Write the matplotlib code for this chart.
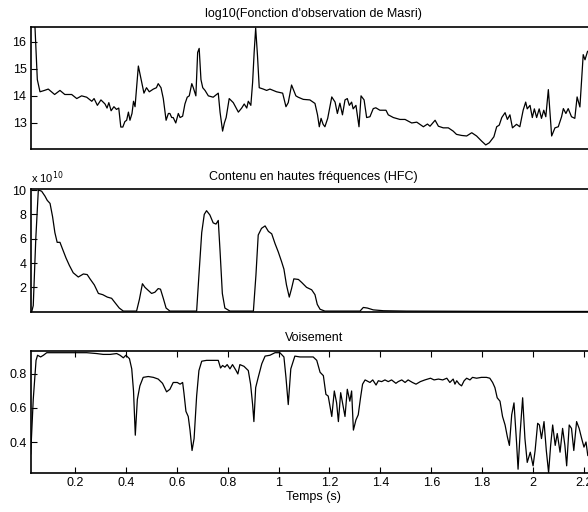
import numpy as np
import matplotlib
matplotlib.use("Agg")
import matplotlib.pyplot as plt

plt.rcParams["font.family"] = ["Liberation Sans", "DejaVu Sans"]

# Masri observation function (log10)
masri_t = [0.027, 0.043, 0.052, 0.0625, 0.08, 0.095, 0.12, 0.141, 0.16, 0.187, 0.207, 0.226, 0.246,
           0.266, 0.275, 0.288, 0.302, 0.318, 0.326, 0.333, 0.342, 0.353, 0.363, 0.372, 0.38, 0.388,
           0.396, 0.403, 0.41, 0.416, 0.424, 0.43, 0.436, 0.449, 0.462, 0.471, 0.481, 0.492, 0.508,
           0.52, 0.527, 0.538, 0.547, 0.558, 0.567, 0.573, 0.58, 0.586, 0.596, 0.606, 0.613, 0.623,
           0.632, 0.641, 0.649, 0.659, 0.665, 0.675, 0.682, 0.688, 0.695, 0.702, 0.711, 0.724, 0.743,
           0.763, 0.77, 0.78, 0.787, 0.794, 0.806, 0.822, 0.842, 0.855, 0.865, 0.875, 0.881, 0.891,
           0.898, 0.904, 0.91, 0.917, 0.924, 0.94, 0.953, 0.966, 0.992, 1.016, 1.029, 1.038, 1.051,
           1.068, 1.077, 1.097, 1.123, 1.143, 1.153, 1.16, 1.167, 1.175, 1.182, 1.193, 1.209, 1.222,
           1.231, 1.241, 1.251, 1.261, 1.27, 1.278, 1.287, 1.293, 1.304, 1.316, 1.324, 1.336, 1.346,
           1.359, 1.372, 1.382, 1.398, 1.422, 1.431, 1.451, 1.477, 1.497, 1.523, 1.543, 1.569, 1.585,
           1.595, 1.615, 1.628, 1.647, 1.667, 1.686, 1.699, 1.719, 1.739, 1.759, 1.778, 1.798, 1.814,
           1.828, 1.846, 1.857, 1.867, 1.877, 1.89, 1.899, 1.909, 1.919, 1.935, 1.948, 1.961, 1.971,
           1.977, 1.988, 1.997, 2.005, 2.014, 2.024, 2.033, 2.042, 2.05, 2.06, 2.073, 2.086, 2.099,
           2.112, 2.119, 2.129, 2.138, 2.151, 2.164, 2.173, 2.184, 2.197, 2.204, 2.214, 2.23]
masri_v = [17.0, 16.5, 14.6, 14.15, 14.2, 14.25, 14.05, 14.2, 14.05, 14.05, 13.9, 14.0, 13.95,
           13.8, 13.9, 13.65, 13.85, 13.7, 13.55, 13.75, 13.45, 13.6, 13.5, 13.55, 12.85, 12.85,
           13.05, 13.1, 13.4, 13.1, 13.35, 13.8, 13.6, 15.1, 14.5, 14.1, 14.3, 14.15, 14.25,
           14.3, 14.45, 14.3, 13.9, 13.1, 13.35, 13.35, 13.2, 13.2, 13.0, 13.35, 13.2, 13.25,
           13.7, 13.95, 14.0, 14.45, 14.3, 14.0, 15.6, 15.75, 14.6, 14.3, 14.2, 14.0, 13.95,
           14.1, 13.4, 12.7, 13.0, 13.2, 13.9, 13.75, 13.4, 13.55, 13.7, 13.55, 13.8, 13.65,
           14.5, 15.6, 16.5, 15.5, 14.3, 14.25, 14.2, 14.25, 14.15, 14.1, 13.6, 13.75, 14.4,
           14.0, 13.95, 13.87, 13.85, 13.72, 13.3, 12.86, 13.17, 12.95, 12.86, 13.17, 13.96, 13.77,
           13.35, 13.73, 13.3, 13.85, 13.9, 13.65, 13.77, 13.52, 13.65, 12.86, 14.0, 13.85, 13.2,
           13.23, 13.53, 13.56, 13.47, 13.47, 13.3, 13.2, 13.13, 13.13, 13.0, 13.03, 12.86, 12.96,
           12.88, 13.1, 12.88, 12.82, 12.82, 12.7, 12.58, 12.54, 12.52, 12.64, 12.52, 12.33, 12.19,
           12.27, 12.49, 12.86, 12.92, 13.2, 13.38, 13.13, 13.3, 12.82, 12.95, 12.86, 13.47, 13.77,
           13.52, 13.65, 13.2, 13.52, 13.2, 13.52, 13.17, 13.47, 13.23, 14.23, 12.52, 12.82, 12.86,
           13.23, 13.53, 13.35, 13.53, 13.23, 13.17, 13.96, 13.59, 15.52, 15.33, 15.64, 15.7]

# High frequency content (x 1e10)
hfc_t = [0.026, 0.030, 0.036, 0.046, 0.056, 0.069, 0.082, 0.091, 0.102, 0.112, 0.121, 0.13, 0.141,
         0.152, 0.165, 0.178, 0.193, 0.213, 0.233, 0.248, 0.259, 0.276, 0.292, 0.309, 0.327, 0.344,
         0.357, 0.374, 0.39, 0.442, 0.453, 0.465, 0.475, 0.488, 0.501, 0.514, 0.527, 0.536, 0.547,
         0.558, 0.573, 0.678, 0.687, 0.698, 0.708, 0.717, 0.73, 0.743, 0.754, 0.763, 0.77, 0.779,
         0.789, 0.809, 0.901, 0.911, 0.92, 0.933, 0.947, 0.96, 0.973, 0.986, 0.999, 1.012, 1.021,
         1.031, 1.042, 1.051, 1.06, 1.078, 1.091, 1.11, 1.13, 1.143, 1.152, 1.163, 1.182, 1.32,
         1.333, 1.349, 1.372, 1.412, 1.503, 1.804, 2.0, 2.25]
hfc_v = [0.0, 0.0, 0.5, 6.0, 10.0, 9.9, 9.5, 9.15, 8.9, 7.8, 6.5, 5.7, 5.7,
         5.1, 4.4, 3.8, 3.2, 2.85, 3.1, 3.05, 2.7, 2.2, 1.5, 1.4, 1.2, 1.1,
         0.75, 0.3, 0.05, 0.05, 1.0, 2.3, 2.0, 1.75, 1.5, 1.6, 1.9, 1.85, 1.1,
         0.3, 0.05, 0.05, 3.0, 6.5, 8.0, 8.3, 7.95, 7.3, 7.2, 7.5, 5.0, 1.5,
         0.3, 0.05, 0.05, 3.0, 6.3, 6.85, 7.05, 6.6, 6.4, 5.6, 4.9, 4.1, 3.5,
         2.2, 1.2, 1.9, 2.7, 2.65, 2.4, 2.0, 1.8, 1.4, 0.6, 0.2, 0.05, 0.05,
         0.35, 0.3, 0.15, 0.08, 0.05, 0.03, 0.02, 0.02]

# Voicing
voi_t = [0.026, 0.036, 0.047, 0.053, 0.065, 0.076, 0.089, 0.141, 0.193, 0.246, 0.285, 0.311, 0.338,
         0.364, 0.377, 0.39, 0.4, 0.414, 0.423, 0.43, 0.437, 0.445, 0.455, 0.468, 0.488, 0.508,
         0.527, 0.544, 0.56, 0.573, 0.586, 0.602, 0.613, 0.623, 0.628, 0.636, 0.645, 0.652, 0.66,
         0.668, 0.678, 0.687, 0.698, 0.717, 0.743, 0.763, 0.772, 0.78, 0.789, 0.798, 0.809, 0.819,
         0.833, 0.84, 0.848, 0.864, 0.881, 0.89, 0.898, 0.903, 0.91, 0.92, 0.934, 0.947, 0.966,
         0.986, 1.005, 1.021, 1.029, 1.038, 1.048, 1.064, 1.084, 1.11, 1.136, 1.15, 1.163, 1.176,
         1.186, 1.195, 1.209, 1.219, 1.228, 1.235, 1.244, 1.255, 1.261, 1.27, 1.28, 1.287, 1.294,
         1.304, 1.313, 1.322, 1.33, 1.34, 1.359, 1.37, 1.383, 1.392, 1.405, 1.418, 1.431, 1.444,
         1.461, 1.47, 1.484, 1.497, 1.509, 1.526, 1.54, 1.557, 1.575, 1.597, 1.611, 1.628, 1.645,
         1.661, 1.673, 1.686, 1.693, 1.7, 1.71, 1.719, 1.729, 1.739, 1.752, 1.762, 1.778, 1.797,
         1.817, 1.83, 1.841, 1.85, 1.859, 1.87, 1.88, 1.89, 1.899, 1.907, 1.916, 1.925, 1.935,
         1.941, 1.949, 1.959, 1.968, 1.977, 1.989, 2.0, 2.008, 2.018, 2.025, 2.033, 2.043, 2.052,
         2.061, 2.069, 2.077, 2.087, 2.095, 2.106, 2.116, 2.125, 2.132, 2.142, 2.151, 2.16, 2.171,
         2.181, 2.191, 2.2, 2.208, 2.215, 2.23]
voi_v = [0.33, 0.65, 0.88, 0.91, 0.9, 0.91, 0.925, 0.925, 0.925, 0.925, 0.92, 0.915, 0.915,
         0.92, 0.91, 0.895, 0.91, 0.89, 0.83, 0.7, 0.44, 0.65, 0.73, 0.78, 0.785, 0.78,
         0.77, 0.745, 0.695, 0.71, 0.75, 0.75, 0.74, 0.75, 0.69, 0.58, 0.55, 0.47, 0.35,
         0.42, 0.67, 0.82, 0.875, 0.88, 0.88, 0.88, 0.835, 0.85, 0.84, 0.855, 0.83, 0.855,
         0.82, 0.80, 0.855, 0.845, 0.82, 0.74, 0.62, 0.52, 0.72, 0.78, 0.86, 0.905, 0.91,
         0.925, 0.925, 0.9, 0.78, 0.62, 0.83, 0.905, 0.9, 0.9, 0.9, 0.88, 0.81, 0.79,
         0.68, 0.67, 0.55, 0.7, 0.63, 0.52, 0.69, 0.6, 0.55, 0.71, 0.64, 0.7, 0.47,
         0.53, 0.56, 0.66, 0.74, 0.765, 0.75, 0.765, 0.735, 0.76, 0.755, 0.765, 0.755, 0.765,
         0.745, 0.755, 0.765, 0.75, 0.765, 0.75, 0.74, 0.755, 0.765, 0.775, 0.765, 0.77, 0.765,
         0.775, 0.75, 0.77, 0.74, 0.76, 0.74, 0.73, 0.76, 0.775, 0.765, 0.78, 0.775, 0.78,
         0.78, 0.775, 0.75, 0.72, 0.66, 0.64, 0.55, 0.5, 0.43, 0.38, 0.56, 0.63, 0.4,
         0.24, 0.45, 0.66, 0.42, 0.28, 0.34, 0.26, 0.35, 0.51, 0.5, 0.42, 0.52, 0.35,
         0.22, 0.38, 0.5, 0.38, 0.45, 0.34, 0.48, 0.38, 0.26, 0.5, 0.48, 0.35, 0.52,
         0.48, 0.42, 0.37, 0.4, 0.32, 0.35]

titles = ["log10(Fonction d'observation de Masri)",
          "Contenu en hautes fréquences (HFC)",
          "Voisement"]

fig = plt.figure(figsize=(5.88, 5.12), dpi=100)
x0, w = 30.7 / 588, 566.0 / 588
h = 122.3 / 512
bottoms = [(512 - 149) / 512, (512 - 311.7) / 512, (512 - 473.3) / 512]
axs = [fig.add_axes([x0, b, w, h]) for b in bottoms]

axs[0].plot(masri_t, masri_v, color="black", lw=0.9)
axs[0].set_ylim(12.04, 16.55)
axs[0].set_yticks([13, 14, 15, 16])

axs[1].plot(hfc_t, hfc_v, color="black", lw=0.9)
axs[1].set_ylim(0, 10.05)
axs[1].set_yticks([2, 4, 6, 8, 10])
axs[1].text(0, 1.03, "x 10$^{10}$", transform=axs[1].transAxes, fontsize=8, ha="left", va="bottom")

axs[2].plot(voi_t, voi_v, color="black", lw=0.9)
axs[2].set_ylim(0.216, 0.935)
axs[2].set_yticks([0.4, 0.6, 0.8])
axs[2].set_xticks([0.2, 0.4, 0.6, 0.8, 1.0, 1.2, 1.4, 1.6, 1.8, 2.0, 2.2])
axs[2].set_xticklabels(["0.2", "0.4", "0.6", "0.8", "1", "1.2", "1.4", "1.6", "1.8", "2", "2.2"])
axs[2].set_xlabel("Temps (s)", fontsize=9, labelpad=1)

for ax, title in zip(axs, titles):
    ax.set_xlim(0.026, 2.25)
    ax.set_title(title, fontsize=9, pad=7)
    ax.tick_params(direction="in", top=True, right=True, length=4, width=0.8, labelsize=9, pad=3)
    for s in ax.spines.values():
        s.set_linewidth(1.2)
for ax in axs[:2]:
    ax.set_xticks([])

fig.savefig("out.png", dpi=100)
